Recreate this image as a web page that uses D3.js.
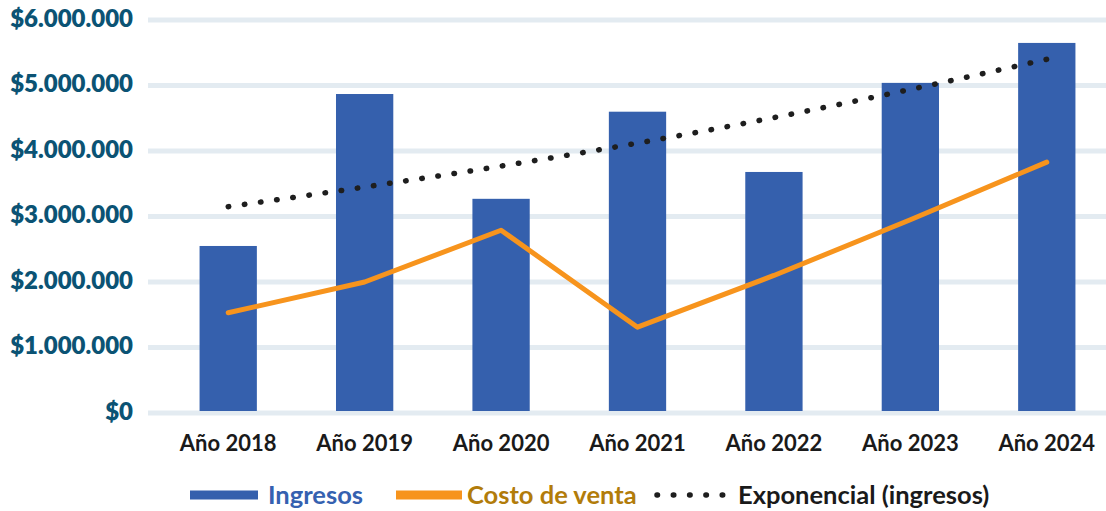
<!DOCTYPE html>
<html><head><meta charset="utf-8">
<script src="https://cdn.jsdelivr.net/npm/d3@7"></script>
<style>
html,body{margin:0;padding:0;background:#fff;}
svg{display:block;font-family:"Source Sans Pro",Lato,"Open Sans",sans-serif;font-weight:700;}
</style></head>
<body>
<svg id="c" width="1106" height="511"></svg>
<script>
const years = ["Año 2018","Año 2019","Año 2020","Año 2021","Año 2022","Año 2023","Año 2024"];
const ingresos = [2550000, 4870000, 3270000, 4600000, 3680000, 5040000, 5650000];
const costoVenta = [1530000, 2000000, 2790000, 1310000, 2100000, 2950000, 3830000];
const tendencia = [3150000, 3450000, 3770000, 4120000, 4510000, 4940000, 5400000];
const yTicks = [0, 1000000, 2000000, 3000000, 4000000, 5000000, 6000000];
const legendLabels = ["Ingresos", "Costo de venta", "Exponencial (ingresos)"];

const svg = d3.select("#c");
const y = d3.scaleLinear().domain([0, 6000000]).range([413, 20]);
const x = d3.scaleBand().domain(years).range([160, 1115]).paddingInner(0.58).paddingOuter(0.29);
const cx = d => x(d) + x.bandwidth() / 2;

const fmt = v => "$" + d3.format(",")(v).replace(/,/g, ".");

// gridlines
svg.append("g").selectAll("line").data(yTicks).join("line")
  .attr("x1", 148).attr("x2", 1106)
  .attr("y1", d => y(d)).attr("y2", d => y(d))
  .attr("stroke", "#e3ebf1").attr("stroke-width", 5);

// y labels
svg.append("g").selectAll("text").data(yTicks).join("text")
  .attr("x", 133).attr("y", d => y(d) - 2)
  .attr("dy", "0.36em")
  .attr("text-anchor", "end")
  .attr("fill", "#0b5374")
  .style("font-size", "24px")
  .style("font-weight", 800)
  .text(fmt);

// bars
svg.append("g").selectAll("rect").data(ingresos).join("rect")
  .attr("x", (d, i) => x(years[i]))
  .attr("width", x.bandwidth())
  .attr("y", d => y(d))
  .attr("height", d => y(0) - y(d) - 2)
  .attr("fill", "#3560ad");

// cost line
const line = d3.line().x((d, i) => cx(years[i])).y(d => y(d));
svg.append("path").datum(costoVenta)
  .attr("d", line)
  .attr("fill", "none").attr("stroke", "#f7941d").attr("stroke-width", 5)
  .attr("stroke-linejoin", "round").attr("stroke-linecap", "round");

// trend line
const tline = d3.line().curve(d3.curveMonotoneX).x((d, i) => cx(years[i])).y(d => y(d));
svg.append("path").datum(tendencia)
  .attr("d", tline)
  .attr("fill", "none").attr("stroke", "#1e1e1e").attr("stroke-width", 5.5)
  .attr("stroke-dasharray", "0.5 15.8").attr("stroke-linecap", "round");

// x labels
svg.append("g").selectAll("text").data(years).join("text")
  .attr("x", d => cx(d)).attr("y", 443)
  .attr("dy", "0.36em")
  .attr("text-anchor", "middle")
  .attr("fill", "#1a1a1a")
  .style("font-size", "22px")
  .text(d => d);

// legend
const lg = svg.append("g");
const ly = 495;
lg.append("rect").attr("x", 190).attr("y", ly - 4.5).attr("width", 68).attr("height", 9).attr("fill", "#3560ad");
lg.append("text").attr("x", 268).attr("y", ly).attr("dy", "0.36em").attr("fill", "#3561b0").style("font-size", "25.5px").text(legendLabels[0]);
lg.append("rect").attr("x", 396).attr("y", ly - 4.5).attr("width", 66).attr("height", 9).attr("fill", "#f7941d");
lg.append("text").attr("x", 467).attr("y", ly).attr("dy", "0.36em").attr("fill", "#b27c0a").style("font-size", "25.5px").text(legendLabels[1]);
lg.append("line").attr("x1", 657).attr("x2", 730).attr("y1", ly).attr("y2", ly)
  .attr("stroke", "#1e1e1e").attr("stroke-width", 5.5).attr("stroke-dasharray", "0.5 15.8").attr("stroke-linecap", "round");
lg.append("text").attr("x", 738).attr("y", ly).attr("dy", "0.36em").attr("fill", "#1a1a1a").style("font-size", "25.5px").text(legendLabels[2]);
</script>
</body></html>
